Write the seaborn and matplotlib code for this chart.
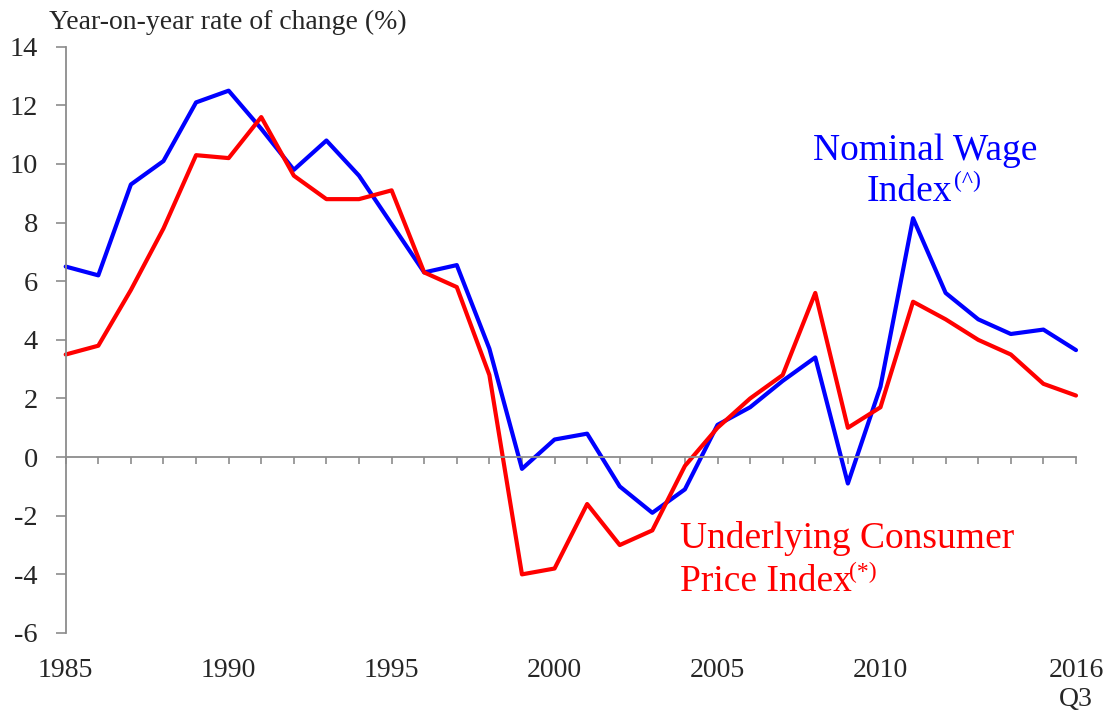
import matplotlib
matplotlib.use("Agg")
import matplotlib.pyplot as plt
import seaborn as sns
import pandas as pd

years = list(range(1985, 2017))
wage = [6.5, 6.2, 9.3, 10.1, 12.1, 12.5, 11.2, 9.8, 10.8, 9.6, 7.95, 6.3,
        6.55, 3.7, -0.4, 0.6, 0.8, -1.0, -1.9, -1.1, 1.1, 1.7, 2.6, 3.4,
        -0.9, 2.4, 8.15, 5.6, 4.7, 4.2, 4.35, 3.65]
cpi = [3.5, 3.8, 5.7, 7.8, 10.3, 10.2, 11.6, 9.6, 8.8, 8.8, 9.1, 6.3,
       5.8, 2.8, -4.0, -3.8, -1.6, -3.0, -2.5, -0.3, 1.0, 2.0, 2.8, 5.6,
       1.0, 1.7, 5.3, 4.7, 4.0, 3.5, 2.5, 2.1]
x_label_years = [1985, 1990, 1995, 2000, 2005, 2010, 2016]
x_label_texts = ["1985", "1990", "1995", "2000", "2005", "2010", "2016\nQ3"]
y_ticks = [-6, -4, -2, 0, 2, 4, 6, 8, 10, 12, 14]

sns.set_style("white")
plt.rcParams['font.family'] = ['Liberation Serif', 'DejaVu Serif']

df = pd.DataFrame({"year": years * 2,
                   "value": wage + cpi,
                   "series": ["wage"] * len(years) + ["cpi"] * len(years)})

fig = plt.figure(figsize=(11.13, 7.13), dpi=100)
ax = fig.add_axes([65.7 / 1113, 80 / 713, (1076 - 65.7) / 1113, (633 - 46.7) / 713])

sns.lineplot(data=df, x="year", y="value", hue="series",
             palette={"wage": "#0000FF", "cpi": "#FF0000"},
             hue_order=["wage", "cpi"], linewidth=3, legend=False, ax=ax,
             clip_on=False)

ax.set_xlim(1985, 2016)
ax.set_ylim(-6, 14)
ax.set_xlabel("")
ax.set_ylabel("")

grey = "#8c8c8c"
for s in ["top", "right"]:
    ax.spines[s].set_visible(False)
ax.spines["left"].set_color(grey)
ax.spines["left"].set_linewidth(1.3)
ax.spines["bottom"].set_position(("data", 0))
ax.spines["bottom"].set_color(grey)
ax.spines["bottom"].set_linewidth(1.3)

ax.set_yticks(y_ticks)
ax.set_yticklabels([str(t) for t in y_ticks])
ax.tick_params(axis="y", direction="out", length=7, width=1.2, color=grey,
               labelsize=20.5, pad=13, left=True)
ax.set_xticks(years)
ax.tick_params(axis="x", direction="out", length=5, width=1.2, color=grey,
               labelbottom=False, bottom=True)

sec = ax.secondary_xaxis(0)
sec.set_xticks(x_label_years)
sec.set_xticklabels(x_label_texts)
sec.spines["bottom"].set_visible(False)
sec.tick_params(axis="x", length=0, labelsize=20, pad=18)

fig.text(49 / 1113, 1 - 29 / 713, "Year-on-year rate of change (%)",
         fontsize=20, ha="left", va="baseline")

ax.text(2011.37, 10.15, "Nominal Wage", color="#0000FF", fontsize=27,
        ha="center", va="baseline")
ax.text(2012.19, 8.72, "Index", color="#0000FF", fontsize=27,
        ha="right", va="baseline")
ax.text(2012.25, 9.2, "(^)", color="#0000FF", fontsize=17,
        ha="left", va="baseline")

ax.text(2003.84, -3.11, "Underlying Consumer", color="#FF0000", fontsize=27,
        ha="left", va="baseline")
ax.text(2003.84, -4.56, "Price Index", color="#FF0000", fontsize=27,
        ha="left", va="baseline")
ax.text(2009.02, -4.12, "(*)", color="#FF0000", fontsize=17,
        ha="left", va="baseline")

fig.savefig("out.png", dpi=100)
